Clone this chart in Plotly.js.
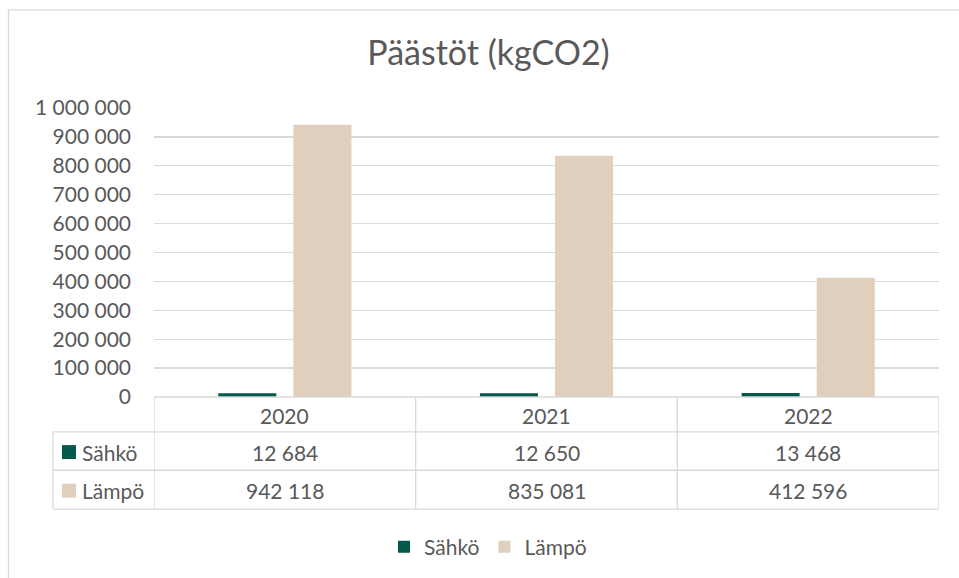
<!DOCTYPE html>
<html>
<head>
<meta charset="utf-8">
<script src="https://cdn.plot.ly/plotly-3.0.1.min.js"></script>
<style>html,body{margin:0;padding:0;background:#fff;}#chart{width:959px;height:578px;}</style>
</head>
<body>
<div id="chart"></div>
<script>
// ---- data ----
const chartTitle = 'Päästöt (kgCO2)';
const years = ['2020', '2021', '2022'];
const seriesNames = ['Sähkö', 'Lämpö'];
const sahko = [12684, 12650, 13468];
const lampo = [942118, 835081, 412596];
const seriesColors = ['#035a4c', '#e0cfbc'];

// ---- layout geometry (pixels) ----
const FIG_W = 959, FIG_H = 578;
const PL = 154, PR = 939, PT = 108, PB = 398;
const PW = PR - PL, PH = PB - PT;
const xp = px => (px - PL) / PW;
const yp = py => (PB - py) / PH;
const textColor = '#595959';
const lineColor = '#d9d9d9';
const FONT = 'Lato, "Open Sans", sans-serif';
const FS = 21;

const fmt = n => String(n).replace(/\B(?=(\d{3})+(?!\d))/g, '\u00a0');

const seriesValues = [sahko, lampo];
const traces = seriesNames.map((name, i) => ({
  type: 'bar', name: name, x: years, y: seriesValues[i],
  marker: {color: seriesColors[i], line: {width: 0}},
  hoverinfo: 'x+y+name'
}));

const shapes = [];
const annotations = [];
const line = (x0, y0, x1, y1, xref) => shapes.push({
  type: 'line', xref: xref || 'paper', yref: 'paper', x0, y0, x1, y1,
  line: {color: lineColor, width: 1.3}, layer: 'above'
});

// outer chart-area border
shapes.push({type: 'rect', xref: 'paper', yref: 'paper',
  x0: xp(8.5), x1: xp(975), y0: yp(9.5), y1: yp(600),
  line: {color: lineColor, width: 1.3}, fillcolor: 'rgba(0,0,0,0)', layer: 'below'});

// data table rows (pixel rows)
const rowTops = [398, 433, 471.5, 510.5];
const LBL_L = 53;
// horizontal lines
line(xp(PL), yp(rowTops[0]), xp(PR), yp(rowTops[0]));
for (let r = 1; r < rowTops.length; r++) line(xp(LBL_L), yp(rowTops[r]), xp(PR), yp(rowTops[r]));
// vertical lines at category boundaries (data coords)
for (let k = 0; k <= years.length; k++) {
  shapes.push({type: 'line', xref: 'x', yref: 'paper', x0: k - 0.5, x1: k - 0.5,
    y0: yp(rowTops[0]), y1: yp(rowTops[3]), line: {color: lineColor, width: 1.3}, layer: 'above'});
}
line(xp(LBL_L), yp(rowTops[1]), xp(LBL_L), yp(rowTops[3]));

const tfont = {family: FONT, size: FS, color: textColor};
// header years
years.forEach((yr, k) => annotations.push({xref: 'x', yref: 'paper', x: k,
  y: yp((rowTops[0] + rowTops[1]) / 2 + 1), text: yr, showarrow: false, font: tfont,
  xanchor: 'center', yanchor: 'middle'}));
// series rows
seriesNames.forEach((name, i) => {
  const cy = (rowTops[i + 1] + rowTops[i + 2]) / 2 + 1;
  shapes.push({type: 'rect', xref: 'paper', yref: 'paper',
    x0: xp(62), x1: xp(76), y0: yp(cy - 7), y1: yp(cy + 7),
    fillcolor: seriesColors[i], line: {width: 0}, layer: 'above'});
  annotations.push({xref: 'paper', yref: 'paper', x: xp(80), y: yp(cy), text: name,
    showarrow: false, font: tfont, xanchor: 'left', yanchor: 'middle'});
  seriesValues[i].forEach((v, k) => annotations.push({xref: 'x', yref: 'paper', x: k,
    y: yp(cy), text: fmt(v), showarrow: false, font: tfont, xanchor: 'center', yanchor: 'middle'}));
});

const layout = {
  width: FIG_W, height: FIG_H,
  margin: {l: PL, r: FIG_W - PR, t: PT, b: FIG_H - PB, pad: 0},
  paper_bgcolor: '#ffffff', plot_bgcolor: '#ffffff',
  separators: ', ',
  font: {family: FONT, size: FS, color: textColor},
  title: {text: chartTitle, font: {family: FONT, size: 34, color: textColor},
    xref: 'container', yref: 'container', x: 488.5 / FIG_W, xanchor: 'center',
    y: 1 - 53 / FIG_H, yanchor: 'middle'},
  barmode: 'group', bargap: 0.426, bargroupgap: 0.227,
  xaxis: {type: 'category', showticklabels: false, ticks: '', showgrid: false,
    zeroline: false, showline: false, range: [-0.5, years.length - 0.5], fixedrange: true},
  yaxis: {range: [0, 1000000], dtick: 100000, tick0: 0, tickformat: ',d',
    showgrid: true, gridcolor: lineColor, gridwidth: 1.3, zeroline: false, showline: false,
    ticks: '', ticklabelstandoff: 22, tickfont: {family: FONT, size: FS, color: textColor},
    fixedrange: true},
  showlegend: true,
  legend: {orientation: 'h', x: xp(384), xanchor: 'left', y: yp(547), yanchor: 'middle',
    font: {family: FONT, size: FS, color: textColor}, itemwidth: 30, traceorder: 'normal',
    bgcolor: 'rgba(0,0,0,0)'},
  shapes: shapes, annotations: annotations
};

Plotly.newPlot('chart', traces, layout, {displayModeBar: false, staticPlot: true});
</script>
</body>
</html>
